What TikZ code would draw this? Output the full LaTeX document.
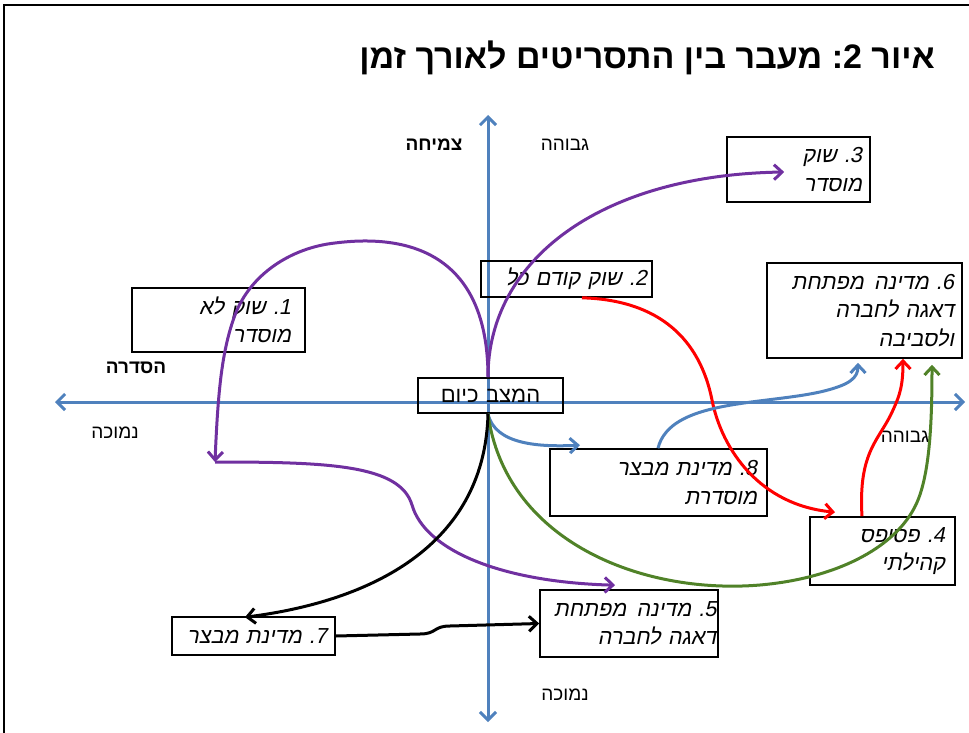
\documentclass[tikz,border=0pt]{standalone}
\usepackage{fontspec}
\setmainfont{Liberation Sans}
\newfontfamily\heb[Script=Hebrew]{Liberation Sans}
\newfontfamily\hebit[Script=Hebrew,FakeSlant=0.2]{Liberation Sans}
\TeXXeTstate=1
\frenchspacing
\usetikzlibrary{arrows.meta,calc}
\newcommand{\RL}[1]{\beginR #1\endR}
\definecolor{axisblue}{HTML}{4F81BD}
\definecolor{mypurple}{HTML}{7030A0}
\definecolor{myred}{HTML}{FF0000}
\definecolor{mygreen}{RGB}{80,130,40}
\tikzset{
  box/.style={draw=black, line width=1.6pt, inner sep=0pt, align=right,
    font=\frenchspacing\hebit\fontsize{21.7}{28.5}\selectfont},
  lab/.style={inner sep=0pt, font=\heb\fontsize{19}{21}\selectfont},
  blab/.style={inner sep=0pt, font=\heb\bfseries\fontsize{19}{21}\selectfont},
  conn/.style={line width=3pt, -{Straight Barb[length=8pt,width=15pt]}},
  axis/.style={line width=3pt, draw=axisblue, {Straight Barb[length=8pt,width=16pt]}-{Straight Barb[length=8pt,width=16pt]}},
}
\begin{document}
\begin{tikzpicture}[x=1pt,y=-1pt]
\useasboundingbox (0,0) rectangle (969,733);
\draw[line width=1.2pt] (4,740) -- (4,5) -- (975,5);
% title
\node[anchor=east, inner sep=0pt, font=\heb\bfseries\fontsize{34}{38}\selectfont] (title) at (935,58) {\RL{איור 2: מעבר בין התסריטים לאורך זמן}};
% axes
\coordinate (xl) at (55,402);
\coordinate (xr) at (965,402);
\coordinate (yt) at (488,115);
\coordinate (yb) at (488,722);
\draw[axis] (xl) -- (xr);
\draw[axis] (yt) -- (yb);
% axis labels
\node[blab] (lgrow) at (434,145) {\RL{צמיחה}};
\node[lab] (lhigh1) at (565,145) {\RL{גבוהה}};
\node[blab] (lreg) at (136,368) {\RL{הסדרה}};
\node[lab] (llow1) at (115,433) {\RL{נמוכה}};
\node[lab] (lhigh2) at (905,437) {\RL{גבוהה}};
\node[lab] (llow2) at (565,695) {\RL{נמוכה}};
% boxes
\node[box, minimum width=173pt, minimum height=64pt, text width=145pt] (b1) at (218.5,320) {\RL{1. שוק לא}\\\RL{מוסדר}};
\node[box, minimum width=171pt, minimum height=36pt, text width=161pt] (b2) at (566.5,279) {\RL{2. שוק קודם כל}};
\node[box, minimum width=143pt, minimum height=65pt, text width=127pt] (b3) at (798.5,169.5) {\RL{3. שוק}\\\RL{מוסדר}};
\node[box, minimum width=195pt, minimum height=95pt, text width=179pt] (b6) at (864.5,310.5) {\RL{6. מדינה\ \kern3pt מפתחת}\\\RL{דאגה לחברה}\\\RL{ולסביבה}};
\node[box, font=\heb\fontsize{22}{27}\selectfont, align=center, minimum width=145pt, minimum height=35pt, text width=135pt] (b0) at (490.5,395.5) {\RL{המצב כיום}};
\node[box, minimum width=217pt, minimum height=67pt, text width=197pt] (b8) at (658.5,482.5) {\RL{8. מדינת מבצר}\\\RL{מוסדרת}};
\node[box, minimum width=145pt, minimum height=68pt, text width=125pt] (b4) at (882.5,551) {\RL{4. פסיפס}\\\RL{קהילתי}};
\node[box, minimum width=178pt, minimum height=67pt, text width=175pt] (b5) at (629,623.5) {\RL{5. מדינה\ \kern3pt מפתחת}\\\RL{דאגה לחברה}};
\node[box, minimum width=163pt, minimum height=38pt, text width=147pt] (b7) at (253.5,636) {\RL{7. מדינת מבצר}};
% connectors
\coordinate (pl) at (215,462);
% purple
\draw[conn, mypurple] ($(b0.north)+(-2.5,0)$) .. controls (488,260) and (600,175) .. ($(b3.west)+(58,2.5)$);
\draw[conn, mypurple] ($(b0.north)+(-2.5,0)$) .. controls (488,240) and (390,236) .. (335,243) .. controls (290,248) and (250,275) .. (235,315) .. controls (222,350) and (218,390) .. (pl);
\draw[conn, mypurple] (pl) .. controls (330,462) and (400,465) .. (412,505) .. controls (425,550) and (500,582) .. ($(b5.north)+(-14,-4)$);
% red
\draw[conn, myred] ($(b2.south)+(15.5,0)$) .. controls (660,300) and (700,340) .. (712,400) .. controls (722,450) and (760,505) .. ($(b4.north)+(-47.5,-4)$);
\draw[conn, myred] ($(b4.north)+(-20.5,0)$) .. controls (858,450) and (880,440) .. (893,410) .. controls (900,395) and (903,385) .. ($(b6.south)+(38.5,0)$);
% blue
\draw[conn, axisblue] ($(b0.south)+(-2.5,0)$) .. controls (495,445) and (540,447) .. ($(b8.north)+(-78.5,-3)$);
\draw[conn, axisblue] ($(b8.north)+(-0.5,0)$) .. controls (670,400) and (760,405) .. (820,392) .. controls (850,385) and (858,378) .. ($(b6.south)+(-6.5,4)$);
% green
\draw[conn, mygreen] ($(b0.south)+(-2.5,0)$) .. controls (505,540) and (640,595) .. (760,585) .. controls (840,578) and (900,545) .. (918,500) .. controls (930,470) and (932,420) .. ($(b6.south)+(67.5,6)$);
% black
\draw[conn, black] ($(b0.south)+(-2.5,0)$) .. controls (485,540) and (380,600) .. ($(b7.north)+(-8.5,1)$);
\draw[conn, black] (b7.east) -- (420,634) .. controls (437,634) and (433,626) .. (450,626) -- (b5.west);
\end{tikzpicture}
\end{document}
